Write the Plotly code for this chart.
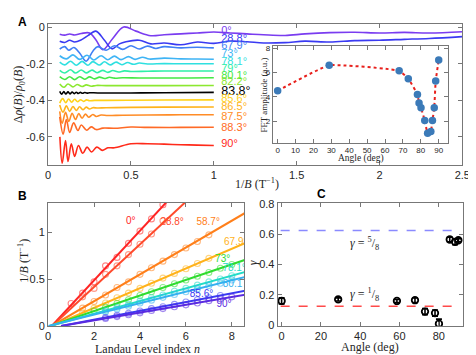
import plotly.graph_objects as go

# ---------------- Panel A data ----------------
a_labels = ["0°", "28.8°", "67.9°", "73°", "78.1°", "79°", "80.1°", "82.2°",
            "83.8°", "85.6°", "86.5°", "87.5°", "88.3°", "90°"]
a_colors = ["#7a3cf0", "#3a3af2", "#3f7ff5", "#3fb4f5", "#2fe0e0", "#2ff0a8",
            "#44e844", "#8ce830", "#000000", "#ffd21a", "#ffb31a", "#ff8c26",
            "#ff6a26", "#ff2a1a"]
a_label_y = [-0.018, -0.062, -0.103, -0.147, -0.19, -0.23, -0.27, -0.302,
             -0.351, -0.395, -0.44, -0.491, -0.553, -0.638]

x_0 = [0.07, 0.10, 0.13, 0.16, 0.20, 0.25, 0.29, 0.33, 0.39, 0.456, 0.53, 0.62, 0.7, 0.8,
       0.9, 1.0, 1.1, 1.2, 1.3, 1.43, 1.55, 1.7, 1.85, 2.0, 2.15, 2.3, 2.5]
y_0 = [-0.037, -0.042, -0.036, -0.041, -0.033, -0.03, -0.07, -0.122, -0.06, 0.003, -0.02, -0.045,
       -0.04, -0.035, -0.03, -0.025, -0.03, -0.035, -0.04, -0.044, -0.035, -0.028, -0.026, -0.03,
       -0.027, -0.03, -0.023]
x_28 = [0.07, 0.10, 0.13, 0.16, 0.2, 0.24, 0.288, 0.34, 0.385, 0.43, 0.47, 0.55, 0.62, 0.7, 0.8,
        0.9, 1.0, 1.1, 1.2, 1.3, 1.43, 1.55, 1.7, 1.85, 2.0, 2.15, 2.3, 2.5]
y_28 = [-0.076, -0.082, -0.07, -0.08, -0.068, -0.045, -0.02, -0.07, -0.117, -0.09, -0.078, -0.07,
        -0.09, -0.085, -0.095, -0.08, -0.087, -0.075, -0.078, -0.085, -0.083, -0.075, -0.08,
        -0.072, -0.07, -0.065, -0.06, -0.05]
x_67 = [0.07, 0.10, 0.125, 0.155, 0.19, 0.229, 0.27, 0.3, 0.35, 0.4, 0.45, 0.5, 0.55, 0.6,
        0.65, 0.7, 0.8, 0.9, 1.0]
y_67 = [-0.118, -0.105, -0.125, -0.11, -0.14, -0.185, -0.13, -0.105, -0.125, -0.1, -0.12,
        -0.1, -0.118, -0.102, -0.115, -0.105, -0.112, -0.108, -0.112]
x_73 = [0.07, 0.11, 0.15, 0.19, 0.235, 0.275, 0.32, 0.36, 0.4, 0.44, 0.485, 0.525, 0.57,
        0.61, 0.7, 0.8, 0.9, 1.0]
y_73 = [-0.155, -0.172, -0.15, -0.175, -0.152, -0.178, -0.155, -0.177, -0.157, -0.176, -0.16,
        -0.175, -0.163, -0.173, -0.168, -0.172, -0.173, -0.174]
x_78 = [0.07, 0.1, 0.135, 0.17, 0.205, 0.24, 0.27, 0.31, 0.34, 0.375, 0.41, 0.445, 0.48,
        0.515, 0.55, 0.6, 0.7, 0.8, 0.9, 1.0]
y_78 = [-0.19, -0.205, -0.185, -0.207, -0.186, -0.207, -0.187, -0.206, -0.188, -0.205, -0.19,
        -0.204, -0.192, -0.202, -0.195, -0.2, -0.198, -0.199, -0.199, -0.199]
x_79 = [0.07, 0.1, 0.135, 0.165, 0.2, 0.23, 0.265, 0.295, 0.33, 0.36, 0.39, 0.425, 0.46,
        0.5, 0.6, 0.7, 0.85, 1.0]
y_79 = [-0.235, -0.25, -0.232, -0.25, -0.233, -0.249, -0.234, -0.248, -0.235, -0.246, -0.236,
        -0.244, -0.238, -0.241, -0.24, -0.239, -0.239, -0.239]
x_80 = [0.07, 0.1, 0.13, 0.16, 0.19, 0.22, 0.25, 0.28, 0.31, 0.34, 0.37, 0.4, 0.45, 0.55,
        0.7, 0.85, 1.0]
y_80 = [-0.27, -0.285, -0.27, -0.286, -0.27, -0.284, -0.271, -0.282, -0.272, -0.28, -0.273,
        -0.278, -0.276, -0.277, -0.277, -0.277, -0.276]
x_82 = [0.07, 0.095, 0.12, 0.15, 0.175, 0.205, 0.23, 0.26, 0.29, 0.35, 0.5, 0.7, 1.0]
y_82 = [-0.31, -0.328, -0.31, -0.326, -0.313, -0.324, -0.315, -0.322, -0.318, -0.319, -0.319,
        -0.319, -0.318]
x_83 = [0.07, 0.082, 0.095, 0.107, 0.12, 0.132, 0.145, 0.157, 0.17, 0.182, 0.195, 0.207,
        0.22, 0.235, 0.25, 0.3, 0.5, 0.7, 1.0]
y_83 = [-0.35, -0.366, -0.352, -0.365, -0.353, -0.364, -0.354, -0.363, -0.355, -0.362, -0.356,
        -0.361, -0.357, -0.36, -0.358, -0.359, -0.359, -0.358, -0.356]
x_85 = [0.07, 0.088, 0.106, 0.124, 0.142, 0.16, 0.178, 0.196, 0.214, 0.232, 0.25, 0.28,
        0.35, 0.5, 0.7, 1.0]
y_85 = [-0.415, -0.39, -0.412, -0.392, -0.41, -0.394, -0.407, -0.396, -0.405, -0.397, -0.402,
        -0.4, -0.4, -0.399, -0.398, -0.397]
x_86 = [0.07, 0.09, 0.11, 0.13, 0.15, 0.17, 0.19, 0.21, 0.23, 0.25, 0.27, 0.3, 0.35, 0.5,
        0.7, 1.0]
y_86 = [-0.425, -0.465, -0.43, -0.46, -0.433, -0.455, -0.435, -0.451, -0.437, -0.447, -0.44,
        -0.442, -0.44, -0.438, -0.437, -0.436]
x_87 = [0.07, 0.085, 0.105, 0.125, 0.145, 0.165, 0.185, 0.205, 0.225, 0.245, 0.27, 0.29,
        0.32, 0.36, 0.45, 0.6, 0.8, 1.0]
y_87 = [-0.46, -0.525, -0.465, -0.515, -0.47, -0.505, -0.472, -0.498, -0.475, -0.492, -0.477,
        -0.488, -0.48, -0.483, -0.481, -0.48, -0.479, -0.479]
x_88 = [0.07, 0.091, 0.11, 0.13, 0.154, 0.18, 0.2, 0.233, 0.26, 0.29, 0.33, 0.4, 0.5, 0.6,
        0.8, 1.0]
y_88 = [-0.49, -0.585, -0.505, -0.576, -0.523, -0.565, -0.535, -0.564, -0.545, -0.56, -0.552,
        -0.553, -0.546, -0.548, -0.548, -0.547]
x_90 = [0.071, 0.085, 0.105, 0.12, 0.14, 0.16, 0.183, 0.209, 0.235, 0.262, 0.294, 0.327,
        0.36, 0.4, 0.5, 0.6, 0.7, 0.8, 0.9, 1.0]
y_90 = [-0.6, -0.745, -0.62, -0.735, -0.638, -0.707, -0.647, -0.69, -0.656, -0.683, -0.656,
        -0.674, -0.66, -0.66, -0.638, -0.638, -0.64, -0.643, -0.645, -0.647]

a_xs = [x_0, x_28, x_67, x_73, x_78, x_79, x_80, x_82, x_83, x_85, x_86, x_87, x_88, x_90]
a_ys = [y_0, y_28, y_67, y_73, y_78, y_79, y_80, y_82, y_83, y_85, y_86, y_87, y_88, y_90]

# ---------------- Inset data ----------------
fft_angle = [0, 28.8, 67.9, 73, 78.1, 79, 80.1, 82.2, 83.8, 85.6, 86.5, 87.5, 88.3, 90]
fft_amp = [4.5, 6.6, 6.15, 5.5, 4.2, 3.5, 3.1, 2.05, 1.0, 1.15, 2.05, 3.1, 5.3, 7.05]

# ---------------- Panel B data ----------------
b_labels = ["0°", "28.8°", "58.7°", "67.9°", "73°", "78.1°", "80.1", "85.6°", "90°"]
b_colors = ["#ff2424", "#ff4a2c", "#ff7f1a", "#ffb21a", "#2fdc2f", "#22dcc8", "#34b0f0",
            "#3a3af2", "#5a2ae0"]
b_label_n = [3.6, 5.4, 6.97, 8.17, 7.6, 8.1, 8.03, 6.68, 7.66]
b_label_v = [1.11, 1.1, 1.1, 0.89, 0.71, 0.615, 0.443, 0.333, 0.227]
fit_slope = [0.264, 0.227, 0.143, 0.105, 0.083, 0.0676, 0.061, 0.0467, 0.0416]
fit_gamma = [0.16, 0.17, 0.16, 0.165, 0.09, 0.08, 0.01, 0.565, 0.56]

n_0 = [1, 1.5, 2, 2.5, 3, 3.5, 4, 4.5, 5]
v_0 = [0.24, 0.35, 0.47, 0.64, 0.73, 0.88, 1.01, 1.14, 1.29]
n_28 = [1.5, 2, 2.5, 3, 3.5, 4, 4.5, 5]
v_28 = [0.31, 0.4, 0.55, 0.64, 0.76, 0.87, 0.98, 1.12]
n_58 = [1.5, 2, 2.5, 3, 3.5, 4, 4.5, 5, 5.5, 6, 6.5, 7]
v_58 = [0.19, 0.26, 0.33, 0.41, 0.47, 0.55, 0.62, 0.69, 0.76, 0.83, 0.9, 0.97]
n_67 = [1.5, 2, 2.5, 3, 3.5, 4, 4.5, 5, 5.5, 6, 6.5, 7]
v_67 = [0.14, 0.19, 0.245, 0.3, 0.35, 0.4, 0.455, 0.51, 0.56, 0.61, 0.665, 0.72]
n_73 = [2, 2.5, 3, 3.5, 4, 4.5, 5, 5.5, 6, 6.5, 7, 7.5, 8]
v_73 = [0.16, 0.2, 0.24, 0.28, 0.325, 0.365, 0.41, 0.45, 0.49, 0.53, 0.57, 0.615, 0.655]
n_78 = [2.5, 3, 3.5, 4, 4.5, 5, 5.5, 6, 6.5, 7, 7.5, 8]
v_78 = [0.165, 0.2, 0.23, 0.265, 0.3, 0.33, 0.37, 0.4, 0.435, 0.47, 0.5, 0.535]
n_80 = [2.5, 3, 3.5, 4, 4.5, 5, 5.5, 6, 6.5, 7, 7.5, 8]
v_80 = [0.15, 0.18, 0.21, 0.245, 0.275, 0.305, 0.335, 0.365, 0.395, 0.43, 0.455, 0.49]
n_85 = [2.5, 3, 3.5, 4, 4.5, 5, 5.5, 6, 6.5, 7, 7.5]
v_85 = [0.09, 0.115, 0.135, 0.16, 0.185, 0.205, 0.23, 0.255, 0.28, 0.3, 0.325]
n_90 = [2.5, 3, 3.5, 4, 4.5, 5, 5.5, 6, 6.5, 7, 7.5, 8]
v_90 = [0.08, 0.1, 0.12, 0.14, 0.165, 0.185, 0.205, 0.225, 0.245, 0.27, 0.29, 0.31]
b_ns = [n_0, n_28, n_58, n_67, n_73, n_78, n_80, n_85, n_90]
b_vs = [v_0, v_28, v_58, v_67, v_73, v_78, v_80, v_85, v_90]

# ---------------- Panel C data ----------------
c_angle = [0, 28.8, 58.7, 67.9, 73, 78.1, 80.1, 85.6, 88.3, 90]
c_gamma = [0.16, 0.17, 0.16, 0.165, 0.09, 0.08, 0.01, 0.565, 0.55, 0.56]
c_err = [0.02, 0.01, 0.01, 0.015, 0.02, 0.02, 0.03, 0.015, 0.02, 0.01]
gamma_ref = [0.625, 0.125]
gamma_ref_colors = ["#8a8aff", "#ff4a4a"]

SANS = "Liberation Sans, Arial, sans-serif"
SERIF = "Liberation Serif, Times New Roman, serif"
TICKC = "#262626"
LINEC = "#777777"

fig = go.Figure()

# Panel A curves
for xs, ys, col in zip(a_xs, a_ys, a_colors):
    fig.add_trace(go.Scatter(x=xs, y=ys, mode="lines", xaxis="x", yaxis="y",
                             line=dict(color=col, width=1.6, shape="spline", smoothing=1.0),
                             showlegend=False, hoverinfo="skip"))
for lab, ly, col in zip(a_labels, a_label_y, a_colors):
    fig.add_trace(go.Scatter(x=[1.045], y=[ly], mode="text", text=[lab],
                             textposition="middle right", xaxis="x", yaxis="y",
                             textfont=dict(color=col, size=12.5 if lab == "83.8°" else 11,
                                           family=SANS),
                             showlegend=False, hoverinfo="skip"))

# Inset
fig.add_trace(go.Scatter(x=fft_angle, y=fft_amp, mode="lines", xaxis="x2", yaxis="y2",
                         line=dict(color="#e8201c", width=2, dash="dot", shape="spline",
                                   smoothing=0.35),
                         showlegend=False, hoverinfo="skip"))
fig.add_trace(go.Scatter(x=fft_angle, y=fft_amp, mode="markers", xaxis="x2", yaxis="y2",
                         marker=dict(color="#3b7ab8", size=7.5),
                         showlegend=False, hoverinfo="skip"))

# Panel B
for ns, vs, col, s, g in zip(b_ns, b_vs, b_colors, fit_slope, fit_gamma):
    n_end = 8.6
    fig.add_trace(go.Scatter(x=[g, n_end], y=[0, s * (n_end - g)], mode="lines",
                             xaxis="x3", yaxis="y3", line=dict(color=col, width=2),
                             showlegend=False, hoverinfo="skip"))
    fig.add_trace(go.Scatter(x=ns, y=vs, mode="markers", xaxis="x3", yaxis="y3",
                             marker=dict(symbol="circle-open", size=6, color=col,
                                         opacity=0.55, line=dict(width=1.1)),
                             cliponaxis=True, showlegend=False, hoverinfo="skip"))
for lab, ln, lv, col in zip(b_labels, b_label_n, b_label_v, b_colors):
    fig.add_trace(go.Scatter(x=[ln], y=[lv], mode="text", text=[lab],
                             xaxis="x3", yaxis="y3",
                             textfont=dict(color=col, size=10, family=SANS),
                             showlegend=False, hoverinfo="skip"))

# Panel C
for gv, gc in zip(gamma_ref, gamma_ref_colors):
    fig.add_trace(go.Scatter(x=[-0.5, 91], y=[gv, gv], mode="lines", xaxis="x4", yaxis="y4",
                             line=dict(color=gc, width=1.5, dash="dash"),
                             showlegend=False, hoverinfo="skip"))
fig.add_trace(go.Scatter(x=c_angle, y=c_gamma, mode="markers", xaxis="x4", yaxis="y4",
                         marker=dict(symbol="circle-open", size=6.5, color="black",
                                     line=dict(width=1.8)),
                         error_y=dict(type="data", array=c_err, color="black",
                                      thickness=1.6, width=3),
                         showlegend=False, hoverinfo="skip"))

def ax(domain, rng, tickvals, ticktext, anchor, size=11):
    return dict(domain=domain, range=rng, tickvals=tickvals, ticktext=ticktext,
                anchor=anchor, showline=True, linecolor=LINEC, linewidth=1, mirror="ticks",
                ticks="inside", ticklen=4, tickcolor=LINEC, showgrid=False, zeroline=False,
                tickfont=dict(family=SANS, size=size, color=TICKC))

W, H = 476, 355
def dx(a, b):
    return [a / W, b / W]
def dy(top, bottom):
    return [1 - bottom / H, 1 - top / H]

fig.update_layout(
    width=W, height=H, autosize=False,
    margin=dict(l=0, r=0, t=0, b=0),
    paper_bgcolor="white", plot_bgcolor="white",
    xaxis=ax(dx(38, 462), [0, 2.5], [0, 0.5, 1, 1.5, 2, 2.5],
             ["0", "0.5", "1", "1.5", "2", "2.5"], "y"),
    yaxis=ax(dy(11, 157), [-0.755, 0.021], [0, -0.2, -0.4, -0.6],
             ["0", "-0.2", "-0.4", "-0.6"], "x"),
    xaxis2=ax(dx(268, 447), [-2.7, 95], list(range(0, 91, 10)),
              [str(v) for v in range(0, 91, 10)], "y2", size=8),
    yaxis2=ax(dy(34, 134), [0.21, 8.2], [2, 4, 6, 8], ["2", "4", "6", "8"], "x2", size=8),
    xaxis3=ax(dx(38, 239), [0, 8.55], [0, 2, 4, 6, 8], ["0", "2", "4", "6", "8"], "y3"),
    yaxis3=ax(dy(196, 323), [0, 1.31], [0, 0.5, 1], ["0", "0.5", "1"], "x3"),
    xaxis4=ax(dx(273, 463), [-2, 92.5], [0, 20, 40, 60, 80], ["0", "20", "40", "60", "80"], "y4"),
    yaxis4=ax(dy(196, 323), [-0.005, 0.806], [0, 0.2, 0.4, 0.6, 0.8],
              ["0", "0.2", "0.4", "0.6", "0.8"], "x4"),
)

def ann(text, x, y, size=12, family=SERIF, angle=0, color="#262626", bold=False):
    if bold:
        text = "<b>" + text + "</b>"
    return dict(text=text, x=x / W, y=1 - y / H, xref="paper", yref="paper",
                showarrow=False, textangle=angle, xanchor="center", yanchor="middle",
                font=dict(family=family, size=size, color=color))

fig.update_layout(annotations=[
    ann("A", 12, 9, size=12, family=SANS, color="black", bold=True),
    ann("B", 12, 189, size=12, family=SANS, color="black", bold=True),
    ann("C", 318, 187, size=12, family=SANS, color="black", bold=True),
    ann("1/<i>B</i> (T<sup>−1</sup>)", 252, 176, size=12),
    ann("Δ<i>ρ</i>(<i>B</i>)/<i>ρ</i><sub>0</sub>(<i>B</i>)", 9, 84, size=12, angle=-90),
    ann("FFT amplitude (a.u.)", 259, 85, size=9, angle=-90),
    ann("Angle (deg)", 358, 150, size=9.5),
    ann("1/<i>B</i> (T<sup>−1</sup>)", 12, 256, size=12, angle=-90),
    ann("Landau Level index <i>n</i>", 140, 347, size=12),
    ann("<i>γ</i>", 248, 258, size=12, angle=-90),
    ann("Angle (deg)", 368, 345, size=12),
    ann("<i>γ</i> = <sup>5</sup>/<sub>8</sub>", 362, 238, size=12),
    ann("<i>γ</i> = <sup>1</sup>/<sub>8</sub>", 362, 290, size=12),
])

fig.write_html("out.html")
